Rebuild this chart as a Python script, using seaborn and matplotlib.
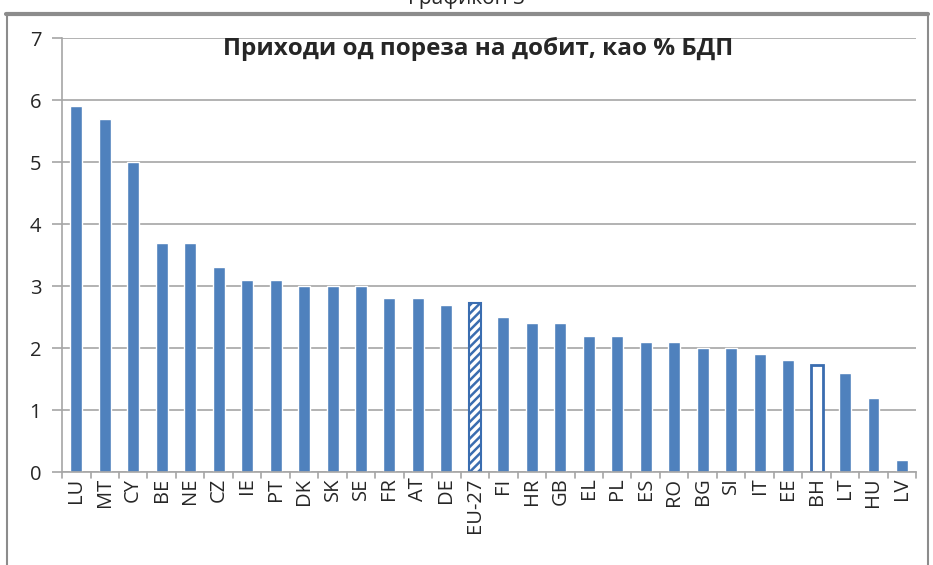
import matplotlib
matplotlib.use("Agg")
import matplotlib.pyplot as plt
import seaborn as sns
from matplotlib.lines import Line2D

countries = ["LU", "MT", "CY", "BE", "NE", "CZ", "IE", "PT", "DK", "SK", "SE", "FR", "AT", "DE",
             "EU-27", "FI", "HR", "GB", "EL", "PL", "ES", "RO", "BG", "SI", "IT", "EE", "BH", "LT",
             "HU", "LV"]
values = [5.9, 5.7, 5.0, 3.7, 3.7, 3.3, 3.1, 3.1, 3.0, 3.0, 3.0, 2.8, 2.8, 2.7,
          2.72, 2.5, 2.4, 2.4, 2.2, 2.2, 2.1, 2.1, 2.0, 2.0, 1.9, 1.8, 1.72, 1.6,
          1.2, 0.2]
y_ticks = [0, 1, 2, 3, 4, 5, 6, 7]
title = "Приходи од пореза на добит, као % БДП"
caption = "Графикон 3"

BLUE = "#4F81BD"
EDGE = "#3A6DB0"
GRID = "#A6A6A6"

sns.set_style("white")
plt.rcParams["font.family"] = ["Open Sans", "DejaVu Sans"]
plt.rcParams["hatch.color"] = EDGE
plt.rcParams["hatch.linewidth"] = 1.8

fig = plt.figure(figsize=(9.33, 5.65), dpi=100)
ax = fig.add_axes([0.0665, 0.1646, 0.9155, 0.768])

sns.barplot(x=countries, y=values, color=BLUE, width=0.42, saturation=1, ax=ax)

for patch, name in zip(ax.patches, countries):
    if name == "EU-27":
        patch.set_facecolor("white")
        patch.set_edgecolor(EDGE)
        patch.set_linewidth(1.5)
        patch.set_hatch("////")
    elif name == "BH":
        patch.set_facecolor("white")
        patch.set_edgecolor(EDGE)
        patch.set_linewidth(2)

ax.set_ylim(0, 7)
ax.set_xlim(-0.5, len(countries) - 0.5)
ax.set_yticks(y_ticks)
ax.yaxis.grid(True, color=GRID, linewidth=1.2)
ax.set_axisbelow(True)
for side in ["top", "right"]:
    ax.spines[side].set_visible(False)
for side in ["left", "bottom"]:
    ax.spines[side].set_color(GRID)
    ax.spines[side].set_linewidth(1.2)

ax.tick_params(axis="y", labelsize=14.5, length=7, color=GRID, width=1.2, left=True, pad=8)
ax.tick_params(axis="x", labelsize=14.5, rotation=90, length=0, pad=4)

# Excel-style tick marks between categories
for i in range(len(countries) + 1):
    ax.add_line(Line2D([i - 0.5, i - 0.5], [0, -0.1], color=GRID, linewidth=1.2,
                       clip_on=False))

ax.set_xlabel("")
ax.set_ylabel("")
ax.text(0.487, 0.975, title, transform=ax.transAxes, ha="center", va="center",
        fontsize=17.5, fontweight="bold")

# outer frame and cut-off caption
fig.add_artist(Line2D([0.006, 0.995], [0.975, 0.975], transform=fig.transFigure,
                      color="#8C8C8C", linewidth=3))
fig.add_artist(Line2D([0.008, 0.008], [0.0, 0.975], transform=fig.transFigure,
                      color="#8C8C8C", linewidth=1.5))
fig.add_artist(Line2D([0.995, 0.995], [0.0, 0.975], transform=fig.transFigure,
                      color="#8C8C8C", linewidth=1.5))
fig.text(0.5, 1.003, caption, ha="center", va="center", fontsize=15)

fig.savefig("out.png", dpi=100)
